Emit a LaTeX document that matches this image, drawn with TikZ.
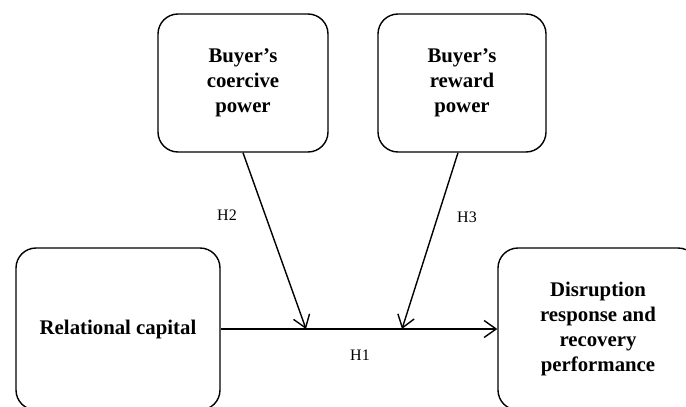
\documentclass[tikz,border=0pt]{standalone}
\usepackage{fontspec}
\setmainfont{Liberation Serif}
\usetikzlibrary{arrows.meta}

\tikzset{
  varbox/.style={draw, line width=1.4pt, rounded corners=20pt, align=center,
    font=\fontsize{20.8}{25}\selectfont\bfseries, inner sep=0pt},
  hyplabel/.style={font=\fontsize{16}{18}\selectfont},
  hyparrow/.style={line width=1.4pt, -{Straight Barb[length=12pt,width=17pt,line width=1.4pt]}}
}

\begin{document}
\begin{tikzpicture}[x=1pt,y=-1pt]
\useasboundingbox (0,0) rectangle (686,407);
\clip (0,0) rectangle (686,407);
%% moderators
\node[varbox, minimum width=170pt, minimum height=138pt] (coercive) at (243,83) {Buyer's\\coercive\\power};
\node[varbox, minimum width=168pt, minimum height=138pt] (reward) at (462,83) {Buyer's\\reward\\power};
%% independent and dependent variable
\node[varbox, minimum width=204pt, minimum height=162pt] (relcap) at (118,329) {Relational capital};
\node[varbox, minimum width=200pt, minimum height=162pt] (disrupt) at (598,329) {Disruption\\response and\\recovery\\performance};
% points on the main path
\coordinate (m2) at (306,329);
\coordinate (m3) at (402,329);
\draw[hyparrow] (relcap) -- (disrupt);
\draw[hyparrow] (coercive.south) -- (m2);
\draw[hyparrow] ([xshift=-4pt]reward.south) -- (m3);
% hypotheses
\node[hyplabel] (h1) at (360,355) {H1};
\node[hyplabel] (h2) at (227,215) {H2};
\node[hyplabel] (h3) at (467,217) {H3};
\end{tikzpicture}
\end{document}
